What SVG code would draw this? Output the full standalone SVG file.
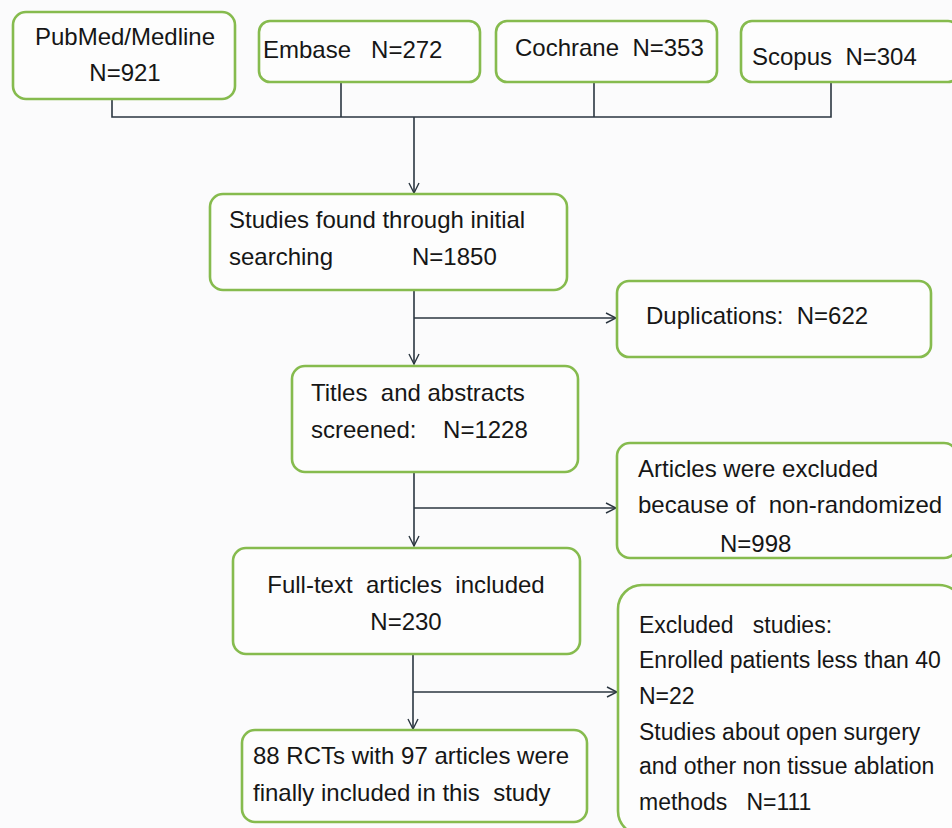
<svg xmlns="http://www.w3.org/2000/svg" width="952" height="828" viewBox="0 0 952 828">
<defs>
<marker id="arr" viewBox="0 0 12 12" refX="11" refY="6" markerWidth="12" markerHeight="12" markerUnits="userSpaceOnUse" orient="auto">
<path d="M1,1 L11,6 L1,11" fill="none" stroke="#2b3640" stroke-width="1.4"/>
</marker>
<style>
.box{fill:#fdfdfd;stroke:#86bb4e;stroke-width:2.6}
.t{font-family:"Liberation Sans",Arial,sans-serif;font-size:24px;fill:#161616}
.s{font-size:23px}
.c{fill:none;stroke:#2b3640;stroke-width:1.6}
</style>
</defs>
<rect width="952" height="828" fill="#fbfbfc"/>
<g id="connectors">
<path class="c" d="M112,99 V117 H831 V82"/>
<path class="c" d="M341,82 V117"/>
<path class="c" d="M594,82 V117"/>
<path class="c" d="M414,117 V193" marker-end="url(#arr)"/>
<path class="c" d="M414,290 V364" marker-end="url(#arr)"/>
<path class="c" d="M414,318 H616" marker-end="url(#arr)"/>
<path class="c" d="M414,472 V546" marker-end="url(#arr)"/>
<path class="c" d="M414,508 H616" marker-end="url(#arr)"/>
<path class="c" d="M413,654 V729" marker-end="url(#arr)"/>
<path class="c" d="M413,692 H617" marker-end="url(#arr)"/>
</g>
<g id="pubmed">
<rect class="box" x="13" y="12" width="222" height="87" rx="13"/>
<text class="t" x="125" y="45" text-anchor="middle">PubMed/Medline</text>
<text class="t" x="125" y="81" text-anchor="middle">N=921</text>
</g>
<g id="embase">
<rect class="box" x="259" y="21" width="221" height="61" rx="11"/>
<text class="t" x="263" y="58" xml:space="preserve">Embase   N=272</text>
</g>
<g id="cochrane">
<rect class="box" x="496" y="21" width="221" height="61" rx="11"/>
<text class="t" x="515" y="56" xml:space="preserve">Cochrane  N=353</text>
</g>
<g id="scopus">
<rect class="box" x="741" y="21" width="218" height="61" rx="11"/>
<text class="t" x="752" y="65" xml:space="preserve">Scopus  N=304</text>
</g>
<g id="initial">
<rect class="box" x="210" y="194" width="357" height="96" rx="13"/>
<text class="t" x="229" y="228">Studies found through initial</text>
<text class="t" x="229" y="265">searching</text>
<text class="t" x="412" y="265">N=1850</text>
</g>
<g id="duplications">
<rect class="box" x="617" y="281" width="314" height="76" rx="12"/>
<text class="t" x="646" y="324" xml:space="preserve">Duplications:  N=622</text>
</g>
<g id="titles">
<rect class="box" x="292" y="366" width="286" height="106" rx="13"/>
<text class="t" x="311" y="401" xml:space="preserve">Titles  and abstracts</text>
<text class="t" x="311" y="438" xml:space="preserve">screened:    N=1228</text>
</g>
<g id="nonrandom">
<rect class="box" x="617" y="443" width="340" height="115" rx="13"/>
<text class="t" x="638" y="477">Articles were excluded</text>
<text class="t" x="638" y="513" xml:space="preserve">because of  non-randomized</text>
<text class="t" x="720" y="552">N=998</text>
</g>
<g id="fulltext">
<rect class="box" x="233" y="548" width="347" height="106" rx="13"/>
<text class="t" x="406" y="593" text-anchor="middle" xml:space="preserve">Full-text  articles  included</text>
<text class="t" x="406" y="630" text-anchor="middle">N=230</text>
</g>
<g id="final">
<rect class="box" x="242" y="730" width="345" height="92" rx="13"/>
<text class="t" x="253" y="764">88 RCTs with 97 articles were</text>
<text class="t" x="253" y="801" xml:space="preserve">finally included in this  study</text>
</g>
<g id="excluded">
<rect class="box" x="618" y="585" width="345" height="250" rx="24"/>
<text class="t s" x="639" y="633" xml:space="preserve">Excluded   studies:</text>
<text class="t s" x="639" y="668">Enrolled patients less than 40</text>
<text class="t s" x="639" y="704">N=22</text>
<text class="t s" x="639" y="740">Studies about open surgery</text>
<text class="t s" x="639" y="774">and other non tissue ablation</text>
<text class="t s" x="639" y="810" xml:space="preserve">methods   N=111</text>
</g>
</svg>
